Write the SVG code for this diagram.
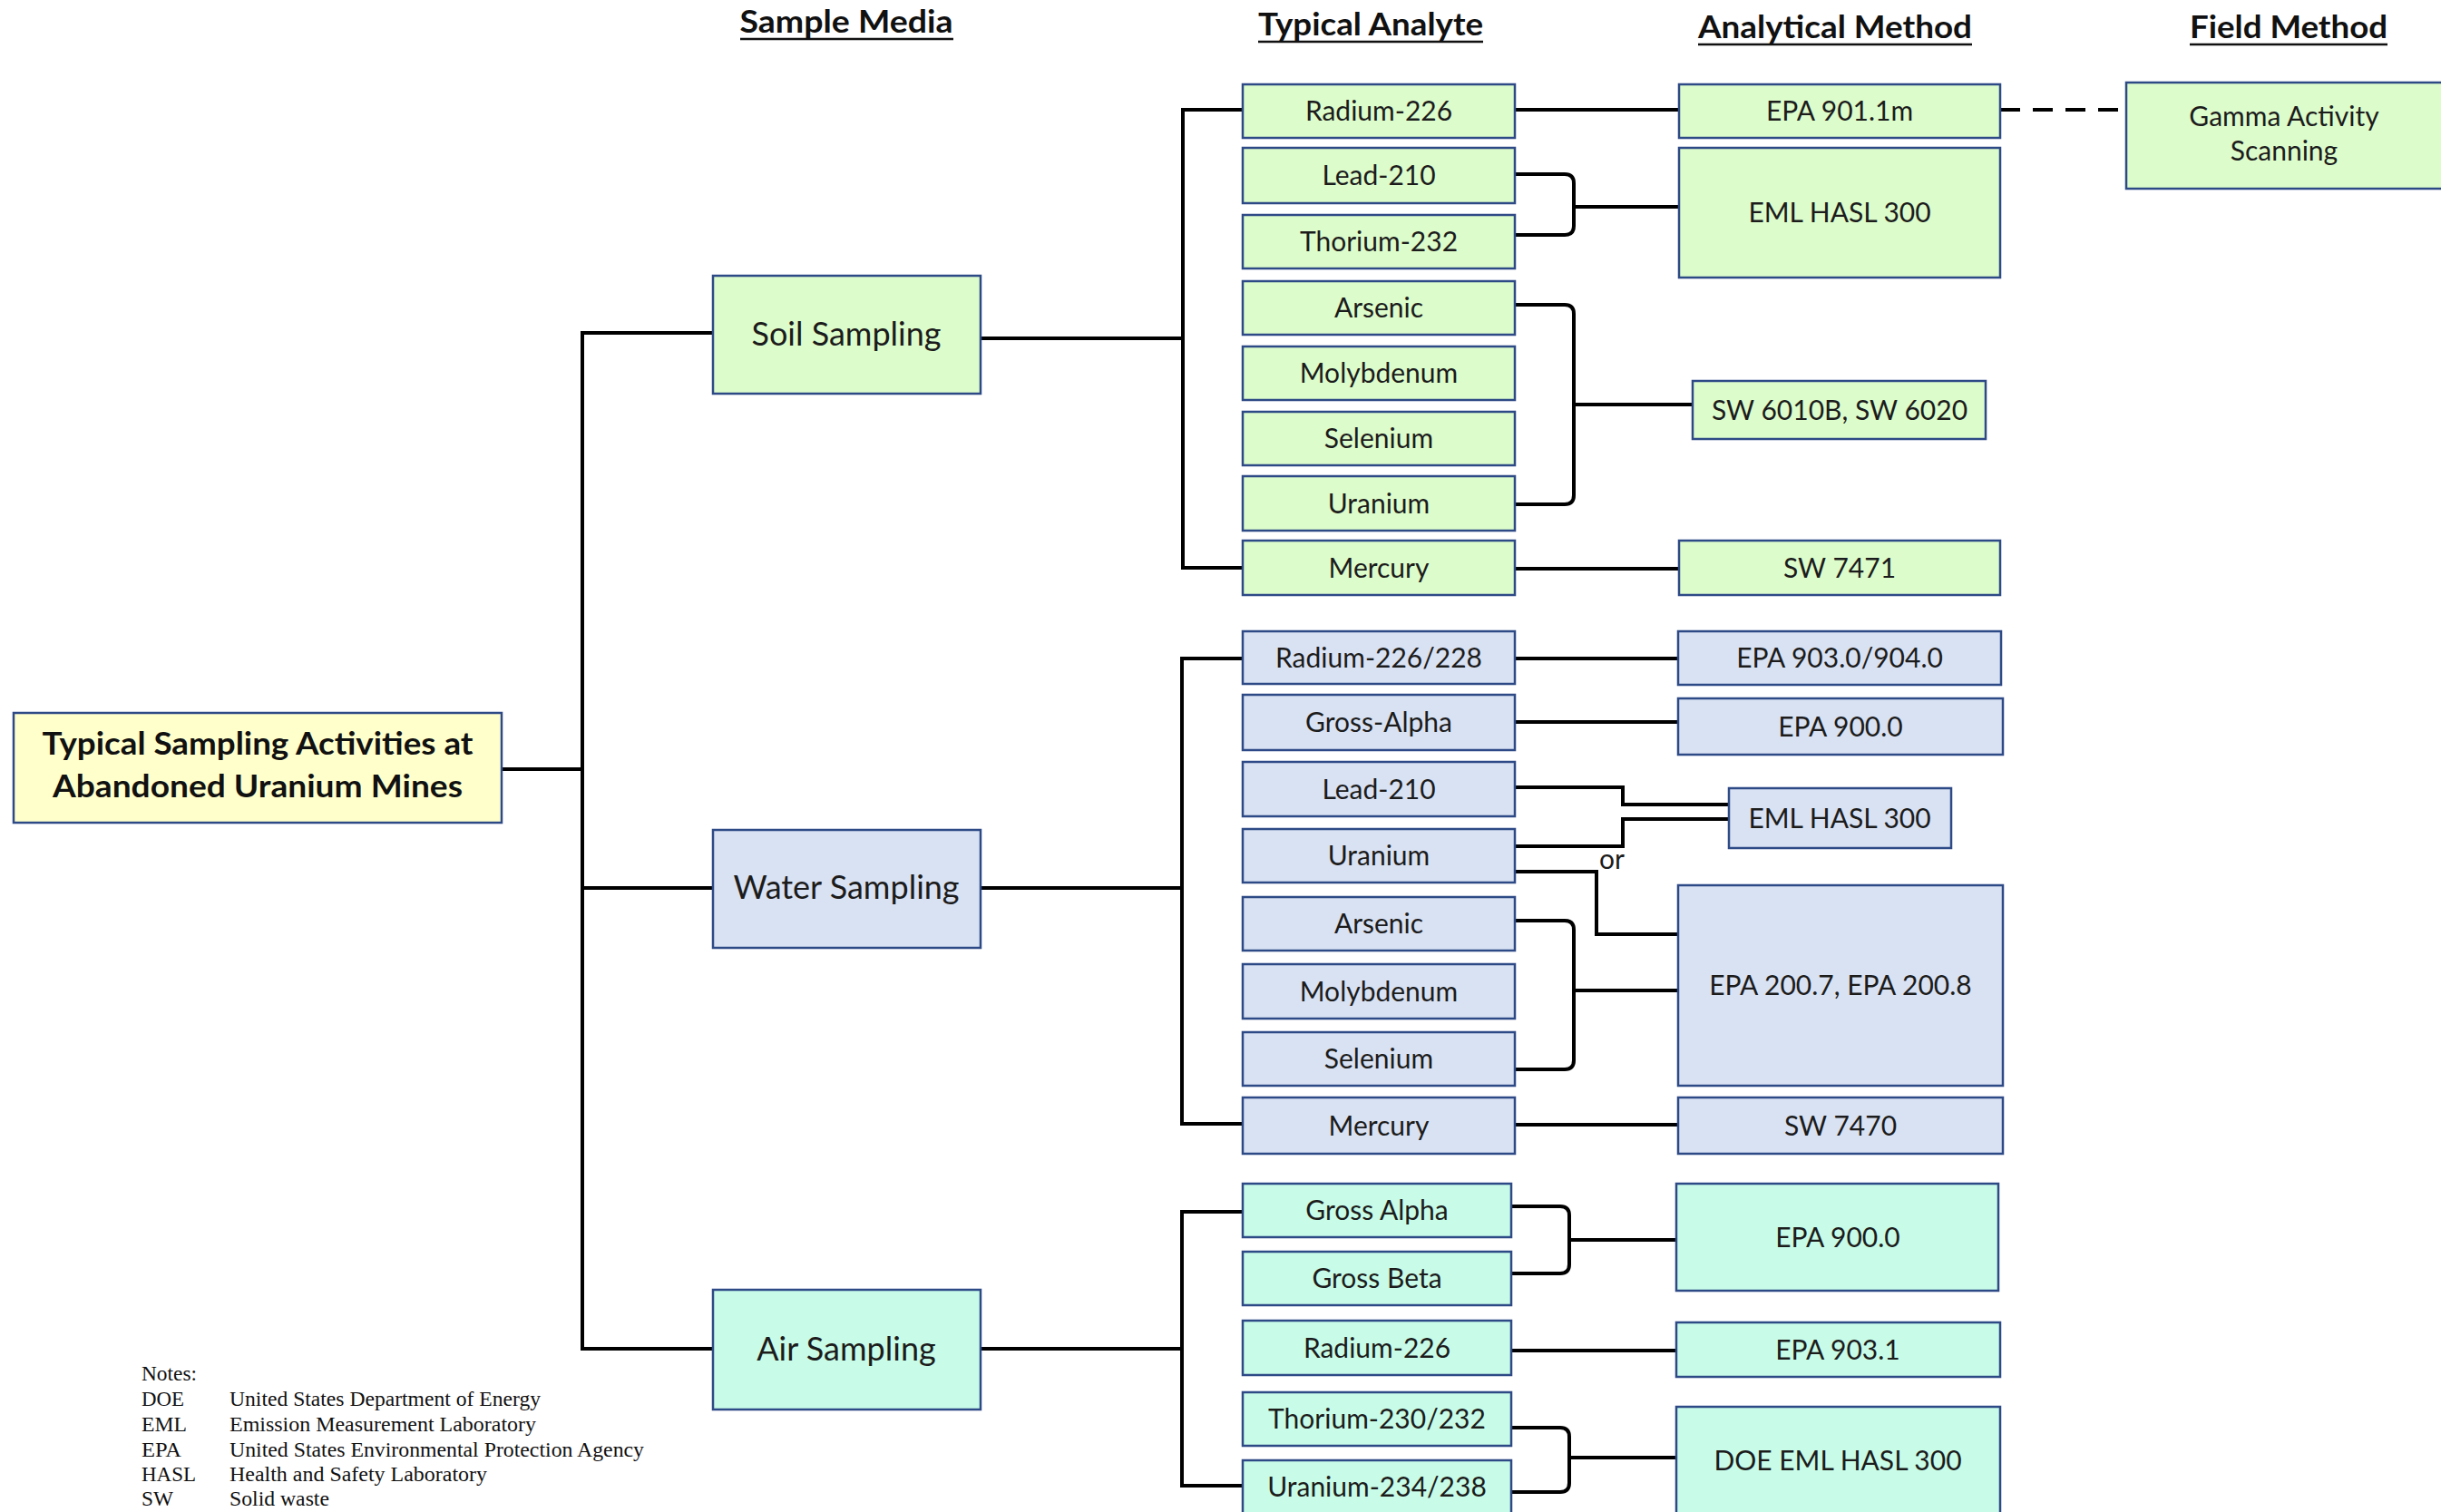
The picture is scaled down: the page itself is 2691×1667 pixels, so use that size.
<svg xmlns="http://www.w3.org/2000/svg" width="2691" height="1667" viewBox="0 0 2691 1667">
  <style>
    .bg { fill: #ffffff; }
    .box { stroke: #2E4A86; stroke-width: 2.5; }
    .soil { fill: #DDFCCB; }
    .water { fill: #D9E2F3; }
    .air { fill: #C8FCE8; }
    .title { fill: #FFFFCC; }
    .t { font-family: Lato, "Open Sans", sans-serif; font-size: 30px; fill: #1c1c1c; text-anchor: middle; }
    .tm { font-size: 36px; }
    .tb { font-weight: bold; font-size: 34px; fill: #111111; }
    .hd { font-family: Lato, "Open Sans", sans-serif; font-weight: bold; font-size: 34px; fill: #111111; text-anchor: middle; }
    .ul { stroke: #111111; stroke-width: 2.5; }
    .ln { fill: none; stroke: #000000; stroke-width: 4; stroke-linejoin: miter; }
    .dash { fill: none; stroke: #000000; stroke-width: 4; stroke-dasharray: 22 14; }
    .note { font-family: "Liberation Serif", "Times New Roman", serif; font-size: 23px; fill: #111111; }
    .or { font-family: Lato, "Open Sans", sans-serif; font-size: 30px; fill: #1c1c1c; }
  </style>

  <rect class="bg" x="0" y="0" width="2691" height="1667"/>

  <!-- column headings -->
  <g id="headings">
    <text class="hd" x="933" y="36" textLength="235" lengthAdjust="spacingAndGlyphs">Sample Media</text>
    <line class="ul" x1="816" y1="43" x2="1051" y2="43"/>
    <text class="hd" x="1511" y="39" textLength="248" lengthAdjust="spacingAndGlyphs">Typical Analyte</text>
    <line class="ul" x1="1387" y1="46" x2="1635" y2="46"/>
    <text class="hd" x="2023" y="42" textLength="302" lengthAdjust="spacingAndGlyphs">Analytical Method</text>
    <line class="ul" x1="1872" y1="49" x2="2174" y2="49"/>
    <text class="hd" x="2523" y="42" textLength="218" lengthAdjust="spacingAndGlyphs">Field Method</text>
    <line class="ul" x1="2414" y1="49" x2="2632" y2="49"/>
  </g>

  <!-- connectors -->
  <g id="connectors">
    <!-- root to media -->
    <path class="ln" d="M553,848 H642"/>
    <path class="ln" d="M786,367 H642 V1487 H786"/>
    <path class="ln" d="M642,979 H786"/>

    <!-- soil -->
    <path class="ln" d="M1081,373 H1304"/>
    <path class="ln" d="M1370,121 H1304 V626 H1370"/>
    <path class="ln" d="M1670,121 H1851"/>
    <path class="dash" d="M2205,121 H2344"/>
    <path class="ln" d="M1670,192 H1725 Q1735,192 1735,202 V249 Q1735,259 1725,259 H1670"/>
    <path class="ln" d="M1735,228 H1851"/>
    <path class="ln" d="M1670,336 H1725 Q1735,336 1735,346 V546 Q1735,556 1725,556 H1670"/>
    <path class="ln" d="M1735,446 H1866"/>
    <path class="ln" d="M1670,627 H1851"/>

    <!-- water -->
    <path class="ln" d="M1081,979 H1303"/>
    <path class="ln" d="M1370,726 H1303 V1239 H1370"/>
    <path class="ln" d="M1670,726 H1850"/>
    <path class="ln" d="M1670,796 H1850"/>
    <path class="ln" d="M1670,868 H1789 V887 H1906"/>
    <path class="ln" d="M1670,933 H1789 V903 H1906"/>
    <path class="ln" d="M1670,961 H1760 V1030 H1850"/>
    <path class="ln" d="M1670,1015 H1725 Q1735,1015 1735,1025 V1169 Q1735,1179 1725,1179 H1670"/>
    <path class="ln" d="M1735,1092 H1850"/>
    <path class="ln" d="M1670,1240 H1850"/>

    <!-- air -->
    <path class="ln" d="M1081,1487 H1303"/>
    <path class="ln" d="M1370,1336 H1303 V1638 H1370"/>
    <path class="ln" d="M1666,1330 H1720 Q1730,1330 1730,1340 V1394 Q1730,1404 1720,1404 H1666"/>
    <path class="ln" d="M1730,1367 H1848"/>
    <path class="ln" d="M1666,1489 H1848"/>
    <path class="ln" d="M1666,1574 H1720 Q1730,1574 1730,1584 V1635 Q1730,1645 1720,1645 H1666"/>
    <path class="ln" d="M1730,1607 H1848"/>
  </g>

  <text class="or" x="1763" y="958">or</text>

  <!-- root -->
  <g id="root">
    <rect class="box title" x="15" y="786" width="538" height="121"/>
    <text class="t tb" x="284" y="832" textLength="475" lengthAdjust="spacingAndGlyphs">Typical Sampling Activities at</text>
    <text class="t tb" x="284" y="879" textLength="452" lengthAdjust="spacingAndGlyphs">Abandoned Uranium Mines</text>
  </g>

  <!-- sample media -->
  <g id="soil-sampling">
    <rect class="box soil" x="786" y="304" width="295" height="130"/>
    <text class="t tm" x="933" y="381">Soil Sampling</text>
  </g>
  <g id="water-sampling">
    <rect class="box water" x="786" y="915" width="295" height="130"/>
    <text class="t tm" x="933" y="991">Water Sampling</text>
  </g>
  <g id="air-sampling">
    <rect class="box air" x="786" y="1422" width="295" height="132"/>
    <text class="t tm" x="933" y="1500">Air Sampling</text>
  </g>

  <!-- soil analytes -->
  <g id="soil-radium-226"><rect class="box soil" x="1370" y="93" width="300" height="59"/><text class="t" x="1520" y="133">Radium-226</text></g>
  <g id="soil-lead-210"><rect class="box soil" x="1370" y="163" width="300" height="61"/><text class="t" x="1520" y="204">Lead-210</text></g>
  <g id="soil-thorium-232"><rect class="box soil" x="1370" y="237" width="300" height="59"/><text class="t" x="1520" y="277">Thorium-232</text></g>
  <g id="soil-arsenic"><rect class="box soil" x="1370" y="310" width="300" height="59"/><text class="t" x="1520" y="350">Arsenic</text></g>
  <g id="soil-molybdenum"><rect class="box soil" x="1370" y="382" width="300" height="59"/><text class="t" x="1520" y="422">Molybdenum</text></g>
  <g id="soil-selenium"><rect class="box soil" x="1370" y="454" width="300" height="59"/><text class="t" x="1520" y="494">Selenium</text></g>
  <g id="soil-uranium"><rect class="box soil" x="1370" y="525" width="300" height="60"/><text class="t" x="1520" y="566">Uranium</text></g>
  <g id="soil-mercury"><rect class="box soil" x="1370" y="596" width="300" height="60"/><text class="t" x="1520" y="637">Mercury</text></g>

  <!-- soil methods -->
  <g id="epa-901-1m"><rect class="box soil" x="1851" y="93" width="354" height="59"/><text class="t" x="2028" y="133">EPA 901.1m</text></g>
  <g id="soil-eml-hasl-300"><rect class="box soil" x="1851" y="163" width="354" height="143"/><text class="t" x="2028" y="245">EML HASL 300</text></g>
  <g id="sw-6010b-6020"><rect class="box soil" x="1866" y="420" width="323" height="64"/><text class="t" x="2028" y="463">SW 6010B, SW 6020</text></g>
  <g id="sw-7471"><rect class="box soil" x="1851" y="596" width="354" height="60"/><text class="t" x="2028" y="637">SW 7471</text></g>
  <g id="gamma-scanning"><rect class="box soil" x="2344" y="91" width="360" height="117"/><text class="t" x="2518" y="139">Gamma Activity</text><text class="t" x="2518" y="177">Scanning</text></g>

  <!-- water analytes -->
  <g id="water-radium-226-228"><rect class="box water" x="1370" y="696" width="300" height="58"/><text class="t" x="1520" y="736">Radium-226/228</text></g>
  <g id="water-gross-alpha"><rect class="box water" x="1370" y="766" width="300" height="61"/><text class="t" x="1520" y="807">Gross-Alpha</text></g>
  <g id="water-lead-210"><rect class="box water" x="1370" y="840" width="300" height="60"/><text class="t" x="1520" y="881">Lead-210</text></g>
  <g id="water-uranium"><rect class="box water" x="1370" y="914" width="300" height="59"/><text class="t" x="1520" y="954">Uranium</text></g>
  <g id="water-arsenic"><rect class="box water" x="1370" y="989" width="300" height="59"/><text class="t" x="1520" y="1029">Arsenic</text></g>
  <g id="water-molybdenum"><rect class="box water" x="1370" y="1063" width="300" height="60"/><text class="t" x="1520" y="1104">Molybdenum</text></g>
  <g id="water-selenium"><rect class="box water" x="1370" y="1138" width="300" height="59"/><text class="t" x="1520" y="1178">Selenium</text></g>
  <g id="water-mercury"><rect class="box water" x="1370" y="1210" width="300" height="62"/><text class="t" x="1520" y="1252">Mercury</text></g>

  <!-- water methods -->
  <g id="epa-903-904"><rect class="box water" x="1850" y="696" width="356" height="59"/><text class="t" x="2028" y="736">EPA 903.0/904.0</text></g>
  <g id="water-epa-900"><rect class="box water" x="1850" y="770" width="358" height="62"/><text class="t" x="2029" y="812">EPA 900.0</text></g>
  <g id="water-eml-hasl-300"><rect class="box water" x="1906" y="869" width="245" height="66"/><text class="t" x="2028" y="913">EML HASL 300</text></g>
  <g id="epa-200-7-200-8"><rect class="box water" x="1850" y="976" width="358" height="221"/><text class="t" x="2029" y="1097">EPA 200.7, EPA 200.8</text></g>
  <g id="sw-7470"><rect class="box water" x="1850" y="1210" width="358" height="62"/><text class="t" x="2029" y="1252">SW 7470</text></g>

  <!-- air analytes -->
  <g id="air-gross-alpha"><rect class="box air" x="1370" y="1305" width="296" height="59"/><text class="t" x="1518" y="1345">Gross Alpha</text></g>
  <g id="air-gross-beta"><rect class="box air" x="1370" y="1380" width="296" height="59"/><text class="t" x="1518" y="1420">Gross Beta</text></g>
  <g id="air-radium-226"><rect class="box air" x="1370" y="1456" width="296" height="60"/><text class="t" x="1518" y="1497">Radium-226</text></g>
  <g id="air-thorium-230-232"><rect class="box air" x="1370" y="1535" width="296" height="59"/><text class="t" x="1518" y="1575">Thorium-230/232</text></g>
  <g id="air-uranium-234-238"><rect class="box air" x="1370" y="1610" width="296" height="64"/><text class="t" x="1518" y="1650">Uranium-234/238</text></g>

  <!-- air methods -->
  <g id="air-epa-900"><rect class="box air" x="1848" y="1305" width="355" height="118"/><text class="t" x="2026" y="1375">EPA 900.0</text></g>
  <g id="epa-903-1"><rect class="box air" x="1848" y="1458" width="357" height="60"/><text class="t" x="2026" y="1499">EPA 903.1</text></g>
  <g id="doe-eml-hasl-300"><rect class="box air" x="1848" y="1551" width="357" height="125"/><text class="t" x="2026" y="1621">DOE EML HASL 300</text></g>

  <!-- abbreviations -->
  <g id="notes">
    <text class="note" x="156" y="1522" textLength="61" lengthAdjust="spacingAndGlyphs">Notes:</text>
    <text class="note" x="156" y="1550" textLength="47" lengthAdjust="spacingAndGlyphs">DOE</text>
    <text class="note" x="253" y="1550" textLength="343" lengthAdjust="spacingAndGlyphs">United States Department of Energy</text>
    <text class="note" x="156" y="1578" textLength="50" lengthAdjust="spacingAndGlyphs">EML</text>
    <text class="note" x="253" y="1578" textLength="338" lengthAdjust="spacingAndGlyphs">Emission Measurement Laboratory</text>
    <text class="note" x="156" y="1606" textLength="44" lengthAdjust="spacingAndGlyphs">EPA</text>
    <text class="note" x="253" y="1606" textLength="457" lengthAdjust="spacingAndGlyphs">United States Environmental Protection Agency</text>
    <text class="note" x="156" y="1633" textLength="60" lengthAdjust="spacingAndGlyphs">HASL</text>
    <text class="note" x="253" y="1633" textLength="284" lengthAdjust="spacingAndGlyphs">Health and Safety Laboratory</text>
    <text class="note" x="156" y="1660" textLength="35" lengthAdjust="spacingAndGlyphs">SW</text>
    <text class="note" x="253" y="1660" textLength="110" lengthAdjust="spacingAndGlyphs">Solid waste</text>
  </g>
</svg>
